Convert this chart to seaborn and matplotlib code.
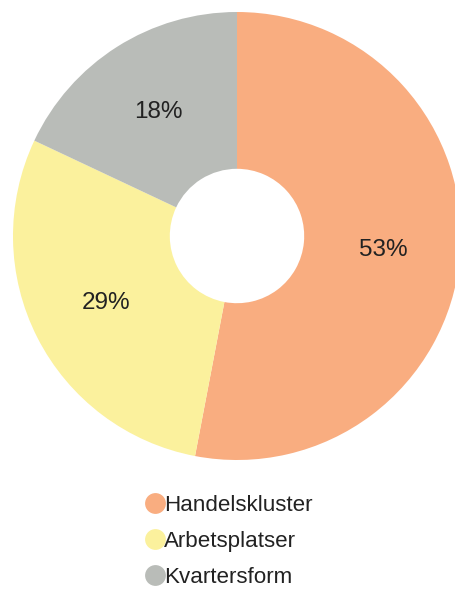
import matplotlib
matplotlib.use("Agg")
import matplotlib.pyplot as plt
from matplotlib.lines import Line2D
import seaborn as sns

categories = ["Handelskluster", "Arbetsplatser", "Kvartersform"]
shares = [53, 29, 18]
pct_labels = ["53%", "29%", "18%"]

sns.set_theme(style="white")
plt.rcParams["font.family"] = ["Liberation Sans", "DejaVu Sans"]
colors = sns.color_palette(["#F9AD80", "#FBF19D", "#B9BCB8"])

fig = plt.figure(figsize=(4.56, 5.90), dpi=100)
ax = fig.add_axes([13 / 456, 130 / 590, 448 / 456, 448 / 590])

wedges, texts = ax.pie(
    shares,
    colors=colors,
    startangle=90,
    counterclock=False,
    radius=1.0,
    labels=pct_labels,
    labeldistance=0.655,
    wedgeprops=dict(width=0.70, linewidth=0),
    textprops=dict(fontsize=17.5, color="#222222", ha="center", va="center"),
)
ax.set_xlim(-1, 1)
ax.set_ylim(-1, 1)
ax.set_aspect("equal")
ax.axis("off")

handles = [
    Line2D([0], [0], marker="o", linestyle="none", markersize=15,
           markerfacecolor=c, markeredgewidth=0)
    for c in colors
]
fig.legend(
    handles, categories,
    loc="upper left",
    bbox_to_anchor=(136 / 456, 1 - 484 / 590),
    frameon=False,
    fontsize=16.1,
    handlelength=0.7,
    handletextpad=0.05,
    labelspacing=0.67,
    borderpad=0,
    labelcolor="#222222",
)

fig.savefig("out.png", dpi=100)
